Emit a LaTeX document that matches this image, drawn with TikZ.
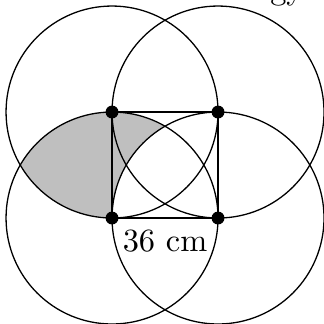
\documentclass[tikz,border=0pt]{standalone}
\begin{document}
\begin{tikzpicture}[x=1.15cm,y=1.15cm,
      dot/.style={circle,fill,inner sep=0pt,minimum size=1.4mm},
      shade area/.style={fill=gray!50}]
  \useasboundingbox (-1.057,-1) rectangle (2,2.057);
  \coordinate (A) at (0,0);
  \coordinate (B) at (1,0);
  \coordinate (C) at (1,1);
  \coordinate (D) at (0,1);

  % shaded part
  \fill[shade area] (0.5,0.866) arc[start angle=60,end angle=150,radius=1]
    arc[start angle=210,end angle=270,radius=1]
    arc[start angle=180,end angle=120,radius=1] -- cycle;

  \foreach \p in {A,B,C,D}
    \draw (\p) circle[radius=1];
  \draw (A) -- (B) -- (C) -- (D) -- cycle;

  \foreach \p in {A,B,C,D}
    \node[dot] (dot\p) at (\p) {};

  \node (side) [below] at (0.5,0) {36 cm};
  \node (title) [anchor=base east] at (1.915,2.057) {gy};
\end{tikzpicture}
\end{document}
